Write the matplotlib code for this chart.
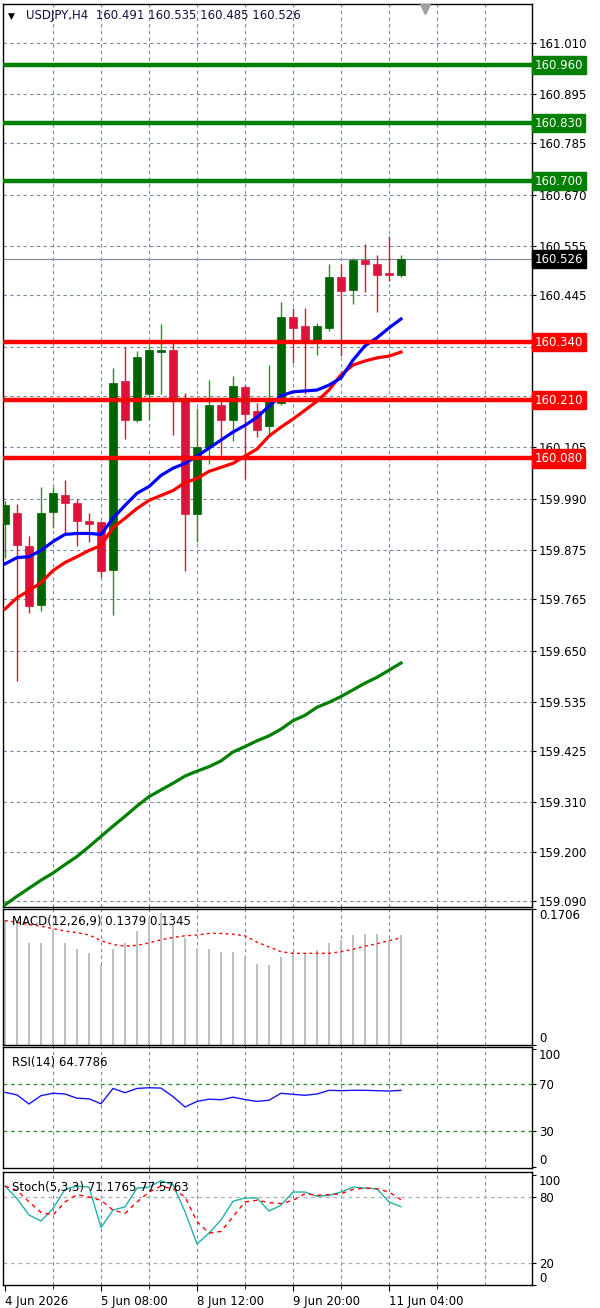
import matplotlib
matplotlib.use("Agg")
import matplotlib.pyplot as plt
import matplotlib.transforms as mtransforms
import numpy as np

plt.rcParams['font.family'] = ['DejaVu Sans']

# USDJPY H4 candles, 4 Jun 2026 00:00 .. 11 Jun 2026 08:00
opens = [159.934, 159.957, 159.885, 159.752, 159.959, 159.997, 159.981, 159.941, 159.937, 159.831,
         160.253, 160.166, 160.224, 160.318, 160.323, 160.208, 159.955, 160.105, 160.199, 160.166,
         160.240, 160.186, 160.152, 160.204, 160.397, 160.377, 160.343, 160.372, 160.485, 160.458,
         160.523, 160.514, 160.496, 160.491]
highs = [159.984, 159.977, 159.907, 160.015, 160.017, 160.031, 159.990, 159.957, 159.941, 160.282,
         160.330, 160.321, 160.332, 160.381, 160.339, 160.226, 160.193, 160.255, 160.215, 160.264,
         160.244, 160.204, 160.289, 160.431, 160.417, 160.417, 160.383, 160.516, 160.516, 160.529,
         160.559, 160.536, 160.577, 160.535]
lows = [159.856, 159.582, 159.734, 159.739, 159.925, 159.912, 159.885, 159.892, 159.815, 159.730,
        160.123, 160.161, 160.166, 160.224, 160.132, 159.829, 159.894, 160.067, 160.087, 160.118,
        160.035, 160.127, 160.130, 160.199, 160.294, 160.224, 160.312, 160.366, 160.309, 160.426,
        160.453, 160.408, 160.478, 160.485]
closes = [159.975, 159.887, 159.750, 159.957, 160.002, 159.981, 159.941, 159.934, 159.827, 160.249,
          160.166, 160.307, 160.323, 160.323, 160.208, 159.955, 160.105, 160.199, 160.166, 160.242,
          160.179, 160.143, 160.208, 160.397, 160.372, 160.343, 160.377, 160.485, 160.455, 160.523,
          160.516, 160.491, 160.491, 160.526]

ma_fast = [159.844, 159.858, 159.860, 159.874, 159.894, 159.910, 159.912, 159.912, 159.910, 159.946,
           159.975, 160.002, 160.017, 160.042, 160.058, 160.069, 160.085, 160.103, 160.121, 160.139,
           160.154, 160.172, 160.197, 160.220, 160.229, 160.231, 160.233, 160.244, 160.260, 160.300,
           160.332, 160.350, 160.372, 160.392]
ma_slow = [159.743, 159.768, 159.784, 159.802, 159.829, 159.847, 159.860, 159.874, 159.885, 159.925,
           159.946, 159.968, 159.986, 159.997, 160.008, 160.026, 160.035, 160.051, 160.060, 160.069,
           160.085, 160.101, 160.130, 160.150, 160.168, 160.188, 160.208, 160.233, 160.267, 160.289,
           160.298, 160.305, 160.309, 160.318]
ma_long = [159.081, 159.100, 159.118, 159.136, 159.152, 159.171, 159.189, 159.211, 159.234, 159.257,
           159.279, 159.302, 159.323, 159.338, 159.353, 159.369, 159.380, 159.390, 159.403, 159.423,
           159.435, 159.448, 159.459, 159.474, 159.493, 159.505, 159.523, 159.534, 159.547, 159.562,
           159.577, 159.590, 159.606, 159.622]

resistance = [160.960, 160.830, 160.700]
support = [160.340, 160.210, 160.080]
last_price = 160.526

price_ticks = [161.010, 160.895, 160.785, 160.670, 160.555, 160.445, 160.330, 160.220, 160.105,
               159.990, 159.875, 159.765, 159.650, 159.535, 159.425, 159.310, 159.200, 159.090]
hidden_ticks = [160.220]   # covered by the 160.210 box

macd_hist = [0.157, 0.157, 0.128, 0.128, 0.146, 0.128, 0.120, 0.115, 0.100, 0.120,
             0.128, 0.143, 0.159, 0.165, 0.151, 0.134, 0.122, 0.120, 0.117, 0.117,
             0.110, 0.102, 0.100, 0.111, 0.117, 0.115, 0.119, 0.128, 0.132, 0.138,
             0.139, 0.139, 0.132, 0.1379]
macd_signal = [0.156, 0.154, 0.151, 0.149, 0.146, 0.143, 0.141, 0.138, 0.131, 0.126,
               0.124, 0.125, 0.128, 0.132, 0.135, 0.137, 0.138, 0.140, 0.140, 0.139,
               0.137, 0.129, 0.123, 0.117, 0.115, 0.115, 0.115, 0.115, 0.117, 0.120,
               0.124, 0.127, 0.131, 0.1345]

rsi = [63.1, 60.9, 53.2, 60.3, 62.3, 61.7, 58.1, 57.6, 53.4, 66.4,
       62.8, 66.4, 67.0, 66.7, 59.5, 50.7, 55.4, 57.3, 56.8, 59.0,
       57.0, 55.4, 56.4, 62.3, 61.4, 60.6, 61.7, 64.8, 64.5, 64.8,
       64.8, 64.5, 64.2, 64.78]

stoch_k = [89.9, 78.5, 63.6, 58.2, 69.6, 86.9, 89.9, 89.0, 52.2, 68.1,
           71.0, 88.1, 89.0, 94.9, 91.0, 66.6, 37.3, 47.2, 59.1, 76.1,
           79.1, 79.1, 67.2, 72.5, 84.5, 84.5, 80.6, 81.5, 84.5, 89.0,
           88.1, 87.5, 75.5, 71.18]
stoch_d = [89.9, 86.0, 75.5, 66.0, 63.6, 75.5, 82.1, 80.0, 77.0, 68.1,
           65.1, 75.5, 84.5, 89.9, 87.5, 80.0, 57.6, 47.2, 48.7, 62.1,
           75.5, 77.0, 74.9, 74.0, 77.0, 83.0, 81.5, 82.1, 83.0, 86.9,
           88.1, 87.5, 84.5, 77.58]

time_ticks = [0, 8, 16, 24, 32]
time_labels = ["4 Jun 2026", "5 Jun 08:00", "8 Jun 12:00", "9 Jun 20:00", "11 Jun 04:00"]

GRID = '#778899'
BULL = '#006400'
BULL_WICK = '#2E8B2E'
BEAR = '#DC143C'
FS = 8.5

W, H = 600, 1308
fig = plt.figure(figsize=(W / 100, H / 100), dpi=100)
fig.patch.set_facecolor('white')


def rect(x0, y0, x1, y1):
    return [x0 / W, 1 - y1 / H, (x1 - x0) / W, (y1 - y0) / H]


ax = fig.add_axes(rect(3, 4, 532, 907))
ax_macd = fig.add_axes(rect(3, 909, 532, 1045), sharex=ax)
ax_rsi = fig.add_axes(rect(3, 1047, 532, 1168), sharex=ax)
ax_st = fig.add_axes(rect(3, 1172, 532, 1285), sharex=ax)

x = np.arange(len(opens))
xmin, xmax = -0.17, 43.92

for a in (ax, ax_macd, ax_rsi, ax_st):
    a.set_xlim(xmin, xmax)
    for v in range(4, 44, 4):
        a.axvline(v, color=GRID, lw=0.8, ls=(0, (3, 3)), zorder=0)
    for s in a.spines.values():
        s.set_color('black')
        s.set_linewidth(1)
    a.yaxis.tick_right()
    a.tick_params(axis='y', length=3, pad=2, labelsize=FS, colors='black')
    a.tick_params(axis='x', length=0, labelbottom=False)

# main price panel
ax.set_ylim(159.076, 161.097)
for p in price_ticks:
    ax.axhline(p, color=GRID, lw=0.8, ls=(0, (3, 3)), zorder=0)
ax.set_yticks(price_ticks)
ax.set_yticklabels(["" if p in hidden_ticks else f"{p:.3f}" for p in price_ticks])

for i in x:
    bull = closes[i] >= opens[i]
    ax.vlines(i, lows[i], highs[i], color=BULL_WICK if bull else BEAR, lw=1.0, zorder=3)
    lo, hi = min(opens[i], closes[i]), max(opens[i], closes[i])
    ax.bar(i, max(hi - lo, 0.002), bottom=lo if hi - lo > 0.002 else lo - 0.001, width=0.6,
           color=BULL if bull else BEAR, edgecolor=BULL if bull else BEAR, lw=0.5, zorder=4)

ax.plot(x, ma_long, color='#008000', lw=2.3, zorder=5)
ax.plot(x, ma_slow, color='#FF0000', lw=2.3, zorder=5)
ax.plot(x, ma_fast, color='#0000FF', lw=2.3, zorder=5)

ax.axhline(last_price, color=GRID, lw=0.8, zorder=2)
for lvl in resistance:
    ax.axhline(lvl, color='#008000', lw=3.2, zorder=6)
for lvl in support:
    ax.axhline(lvl, color='#FF0000', lw=3.2, zorder=6)

tr = mtransforms.blended_transform_factory(ax.transAxes, ax.transData)
boxes = [(l, '#008000') for l in resistance] + [(l, '#FF0000') for l in support] + [(last_price, 'black')]
for lvl, col in boxes:
    ax.text(1.005, lvl, f"{lvl:.3f}", transform=tr, ha='left', va='center', color='white',
            fontsize=FS, clip_on=False, zorder=20,
            bbox=dict(boxstyle='square,pad=0.22', fc=col, ec=col))

ax.text(0.01, 0.9868, "\u25bc", transform=ax.transAxes, fontsize=6.5, color='black',
        ha='left', va='center')
ax.text(0.043, 0.9868, "USDJPY,H4  160.491 160.535 160.485 160.526", transform=ax.transAxes,
        fontsize=FS, color='#101040', ha='left', va='center')
ax.plot([0.798], [0.995], marker='v', ms=7, color='#A0A0A0', transform=ax.transAxes,
        clip_on=False, zorder=10)

# MACD
ax_macd.set_ylim(0, 0.1706)
ax_macd.bar(x, macd_hist, width=0.17, color='#C0C0C0', zorder=2)
ax_macd.plot(x, macd_signal, color='#FF0000', lw=1.0, ls=(0, (2, 2.5)), zorder=3)
ax_macd.set_yticks([0, 0.1706])
ax_macd.set_yticklabels(["0", "0.1706"])
ax_macd.get_yticklabels()[0].set_va('bottom')
ax_macd.get_yticklabels()[1].set_va('top')
ax_macd.text(0.017, 0.91, "MACD(12,26,9) 0.1379 0.1345", transform=ax_macd.transAxes,
             fontsize=FS, ha='left', va='center', zorder=10)

# RSI
ax_rsi.set_ylim(-1, 101.5)
for lvl in (70, 30):
    ax_rsi.axhline(lvl, color='#228B22', lw=0.9, ls=(0, (3, 3)), zorder=1)
ax_rsi.plot(x, rsi, color='#1515F0', lw=1.0, zorder=3)
ax_rsi.set_yticks([0, 30, 70, 100])
ax_rsi.set_yticklabels(["0", "30", "70", "100"])
ax_rsi.get_yticklabels()[0].set_va('bottom')
ax_rsi.get_yticklabels()[3].set_va('top')
ax_rsi.text(0.017, 0.868, "RSI(14) 64.7786", transform=ax_rsi.transAxes,
            fontsize=FS, ha='left', va='center')

# Stochastic
ax_st.set_ylim(0.5, 102.7)
for lvl in (80, 20):
    ax_st.axhline(lvl, color='#B0B0B0', lw=0.9, ls=(0, (3, 3)), zorder=1)
ax_st.plot(x, stoch_k, color='#20B2AA', lw=1.0, zorder=3)
ax_st.plot(x, stoch_d, color='#FF0000', lw=1.0, ls=(0, (3, 3)), zorder=3)
ax_st.set_yticks([0, 20, 80, 100])
ax_st.set_yticklabels(["0", "20", "80", "100"])
ax_st.get_yticklabels()[0].set_va('bottom')
ax_st.get_yticklabels()[3].set_va('top')
ax_st.text(0.017, 0.867, "Stoch(5,3,3) 71.1765 77.5763", transform=ax_st.transAxes,
           fontsize=FS, ha='left', va='center', zorder=10)

ax_st.set_xticks(time_ticks)
ax_st.set_xticks(range(4, 44, 8), minor=True)
ax_st.tick_params(axis='x', which='major', length=4, pad=3, labelbottom=True, labelsize=FS)
ax_st.tick_params(axis='x', which='minor', length=3)
ax_st.set_xticklabels(time_labels)
for lab in ax_st.get_xticklabels():
    lab.set_ha('left')

fig.savefig("out.png", dpi=100, facecolor='white')
